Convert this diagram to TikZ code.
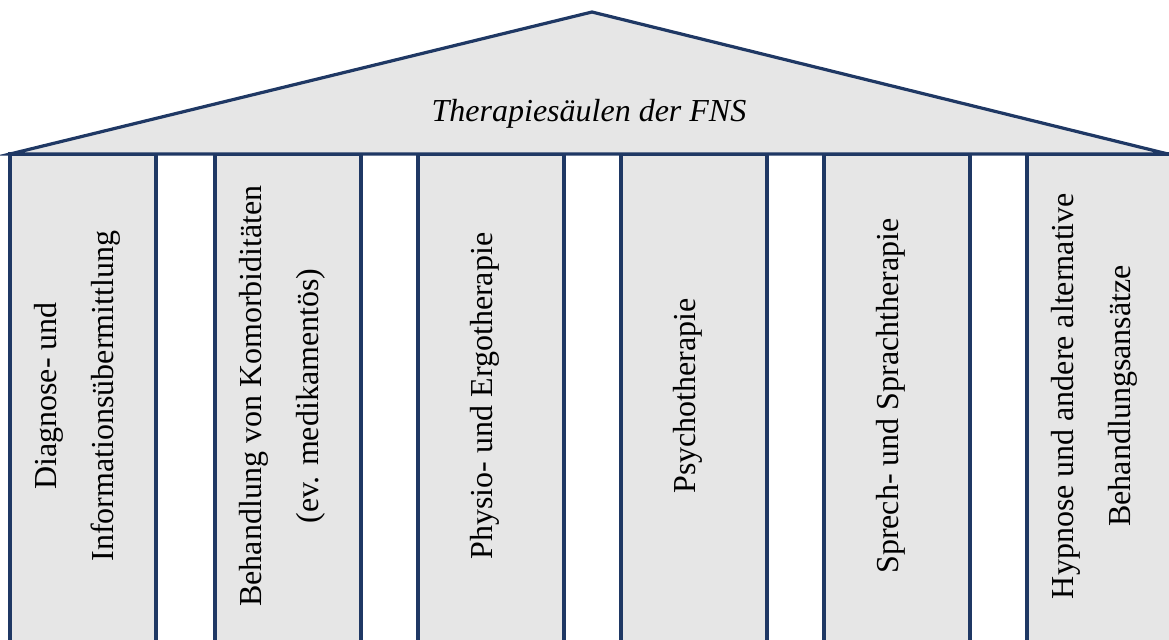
\documentclass[tikz,border=0pt]{standalone}
\usepackage{fontspec}
\setmainfont{Liberation Serif}
\usepackage{xcolor}
\usepackage{tikz}
\usetikzlibrary{
  positioning,
  calc
}
\definecolor{navy}{HTML}{1F3864}
\definecolor{stone}{HTML}{E6E6E6}
\tikzset{
  pillar/.style={
    rectangle, draw=navy, fill=stone, line width=1.6pt,
    minimum width=73pt, minimum height=253pt, inner sep=0pt
  },
  pillarlabel/.style={
    rotate=90, align=center, inner sep=0pt,
    font=\fontsize{16}{28.5}\selectfont
  },
  roof/.style={
    draw=navy, fill=stone, line width=1.6pt, line join=miter
  },
  rooflabel/.style={
    font=\fontsize{16}{19}\selectfont\itshape, inner sep=0pt
  },
}

\begin{document}
\begin{tikzpicture}[x=0.5pt,y=-0.5pt]

  \useasboundingbox (0,0) rectangle (1169,639);
  \clip (0,0) rectangle (1169,639);

  %% ── Pillars ───────────────────────────────────────────────────────────────
  \foreach \i/\x/\txt in {
      1/10/{Diagnose- und\\Informationsübermittlung},
      2/215/{Behandlung von Komorbiditäten\\(ev. medikamentös)},
      3/418/{Physio- und Ergotherapie},
      4/621/{Psychotherapie},
      5/824/{Sprech- und Sprachtherapie},
      6/1027/{Hypnose und andere alternative\\Behandlungsansätze}} {
    \node[pillar] (p\i) at (\x+73,407) {};
    \node[pillarlabel] (t\i) at (\x+67,396) {\txt};
  }

  %% ── Roof ──────────────────────────────────────────────────────────────────
  \coordinate (eaveL) at (10,154);
  \coordinate (apex)  at (592,12);
  \coordinate (eaveR) at (1168,154);
  \draw[roof] (eaveL) -- (apex) -- (eaveR) -- cycle;
  \node[rooflabel] (title) at (589,114) {Therapiesäulen der FNS};

\end{tikzpicture}
\end{document}
